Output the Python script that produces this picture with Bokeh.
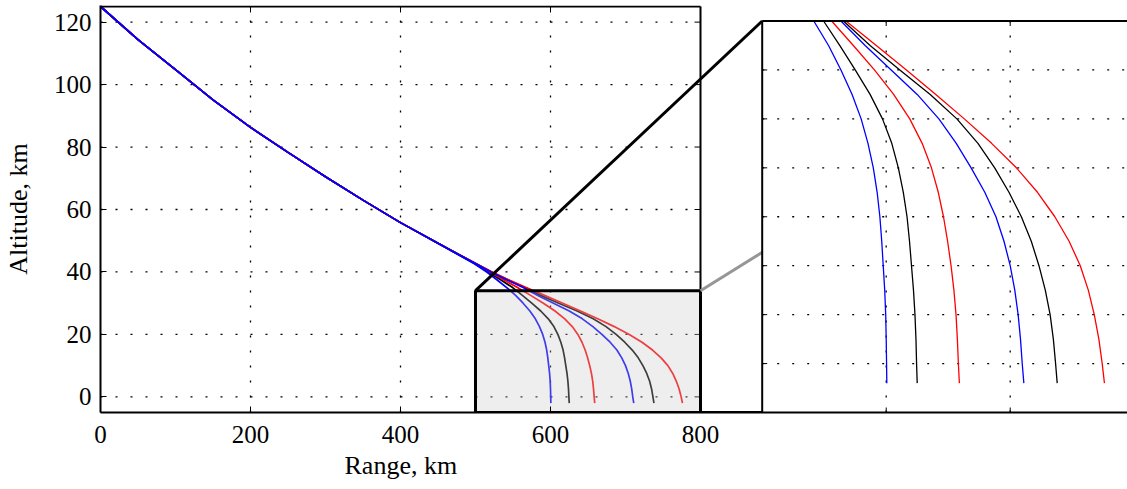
from bokeh.plotting import figure
from bokeh.models import Range1d, FixedTicker, Title
from bokeh.embed import file_html
from bokeh.resources import INLINE

# ---------------- data ----------------
x_ticks = [0, 200, 400, 600, 800]
y_ticks = [0, 20, 40, 60, 80, 100, 120]
inset_x_ticks = [600, 700]
inset_y_ticks = [0, 5, 10, 15, 20, 25, 30]

# common upper part of all trajectories (range km, altitude km)
upper_range = [0, 50, 100, 150, 200, 250, 300, 350, 400, 450]
upper_alt = [125.0, 114.4, 104.8, 95.1, 86.3, 78.3, 70.5, 63.0, 55.8, 49.2]

# lower, diverging parts (shared altitude levels)
lower_alt = [42.6, 40, 37.5, 35, 32.5, 30, 27.5, 25, 22.5, 20, 17.5, 15, 12.5, 10, 7.5, 5, 2.5, 0, -2]
blue1_range = [498.5, 515.0, 528.5, 541.6, 553.5, 563.5, 572.5, 579.8, 585.3, 589.6, 592.7, 594.9, 596.4, 597.6, 598.8, 599.6, 600.0, 600.3, 600.5]
black1_range = [499.5, 517.0, 533.5, 549.5, 562.5, 575.0, 587.0, 597.0, 604.5, 609.8, 613.8, 616.8, 618.8, 620.4, 622.0, 623.2, 624.0, 624.5, 625.0]
red1_range = [500.0, 519.0, 537.5, 556.0, 573.5, 590.5, 606.0, 619.0, 629.0, 636.5, 642.0, 646.2, 649.5, 652.3, 654.6, 656.3, 657.4, 658.2, 659.0]
blue2_range = [500.5, 520.5, 541.5, 563.5, 583.0, 604.0, 625.0, 642.5, 656.5, 668.5, 679.5, 688.5, 695.0, 700.0, 703.7, 706.4, 708.3, 709.7, 711.0]
black2_range = [501.0, 521.5, 543.0, 565.5, 587.0, 611.0, 635.5, 657.0, 674.0, 687.5, 699.0, 709.0, 717.0, 723.2, 728.3, 732.2, 734.8, 736.6, 737.9]
red2_range = [501.0, 522.0, 544.0, 567.5, 592.0, 616.3, 640.0, 663.0, 685.0, 705.0, 722.0, 736.0, 747.5, 756.5, 763.0, 767.8, 771.5, 774.2, 776.0]

# zoom box (main coords) and limits
box_x = [500, 800]
box_y = [-5, 34]
inset_xlim = [500, 800]
inset_ylim = [-5, 35]
main_xlim = [0, 800]
main_ylim = [-5, 125]

# ---------------- layout constants ----------------
W, H = 1127, 489
LEFT, TOP, BOTTOM_PX = 100, 5, 412
FW, FH = W - LEFT, BOTTOM_PX - TOP
MAIN_SX = 0.75          # px per km (range)
MAIN_SY = 3.123         # px per km (altitude)
INSET_X0_PX = 661.7     # inset left edge, px from frame left
INSET_TOP_PX = 15.5     # inset top edge, px from frame top
INSET_SX = 1.24         # px per km in inset
INSET_SY = (FH - INSET_TOP_PX) / (inset_ylim[1] - inset_ylim[0])

XM = (0.0, FW / MAIN_SX)
YM = (main_ylim[0], main_ylim[0] + FH / MAIN_SY)
XI = (inset_xlim[0] - INSET_X0_PX / INSET_SX, inset_xlim[0] + (FW - INSET_X0_PX) / INSET_SX)
YI = (inset_ylim[0], inset_ylim[0] + FH / INSET_SY)


def inset_to_main(xi, yi):
    fx = (xi - XI[0]) / (XI[1] - XI[0])
    fy = (yi - YI[0]) / (YI[1] - YI[0])
    return XM[0] + fx * (XM[1] - XM[0]), YM[0] + fy * (YM[1] - YM[0])


FONT = "Liberation Serif"

p = figure(width=W, height=H, min_border_left=LEFT, min_border_right=0,
           min_border_top=TOP, min_border_bottom=H - BOTTOM_PX,
           x_range=Range1d(*XM), y_range=Range1d(*YM),
           output_backend="svg", toolbar_location=None)
p.extra_x_ranges = {"inset": Range1d(*XI)}
p.extra_y_ranges = {"inset": Range1d(*YI)}
p.outline_line_color = None
p.grid.visible = False
p.background_fill_color = "white"
p.border_fill_color = "white"

for ax in (p.xaxis[0], p.yaxis[0]):
    ax.major_tick_in = 6
    ax.major_tick_out = 0
    ax.minor_tick_line_color = None
    ax.axis_line_width = 2
    ax.major_tick_line_width = 1
    ax.major_label_text_font = FONT
    ax.major_label_text_font_size = "25px"
    ax.major_label_text_color = "black"
p.xaxis[0].ticker = FixedTicker(ticks=x_ticks)
p.yaxis[0].ticker = FixedTicker(ticks=y_ticks)
p.xaxis[0].major_label_standoff = 13
p.yaxis[0].major_label_standoff = 9
p.yaxis[0].axis_label = "Altitude, km"
p.yaxis[0].axis_label_text_font = FONT
p.yaxis[0].axis_label_text_font_size = "26px"
p.yaxis[0].axis_label_text_font_style = "normal"
p.yaxis[0].axis_label_text_color = "black"
p.yaxis[0].axis_label_standoff = 18

XLABEL_CENTER_KM = 400
XLABEL_HALF_WIDTH_PX = 56
p.add_layout(Title(text="Range, km", align="left",
                   offset=XLABEL_CENTER_KM * MAIN_SX - XLABEL_HALF_WIDTH_PX,
                   text_font=FONT, text_font_size="26px", text_font_style="normal",
                   text_color="black", standoff=7), "below")

DOT = "2 13"
# main grid (dotted)
p.segment(x0=[main_xlim[0]] * len(y_ticks), x1=[main_xlim[1]] * len(y_ticks),
          y0=y_ticks, y1=y_ticks, line_color="black", line_width=1.3, line_dash=DOT)
vg = [t for t in x_ticks if main_xlim[0] < t < main_xlim[1]]
p.segment(x0=vg, x1=vg, y0=[main_ylim[0]] * len(vg), y1=[main_ylim[1]] * len(vg),
          line_color="black", line_width=1.3, line_dash=DOT)

curves = [
    (black1_range, "#000000"),
    (black2_range, "#000000"),
    (red1_range, "#ff0000"),
    (red2_range, "#ff0000"),
    (blue1_range, "#0000ff"),
    (blue2_range, "#0000ff"),
]
for xr, col in curves:
    p.line(upper_range + xr, upper_alt + lower_alt, line_color=col, line_width=1.7)

# main top / right border with inward ticks
p.segment(x0=[main_xlim[0]], x1=[main_xlim[1]], y0=[main_ylim[1]], y1=[main_ylim[1]],
          line_color="black", line_width=2)
p.segment(x0=[main_xlim[1]], x1=[main_xlim[1]], y0=[main_ylim[0]], y1=[main_ylim[1]],
          line_color="black", line_width=2)
p.segment(x0=vg, x1=vg, y0=[main_ylim[1]] * len(vg),
          y1=[main_ylim[1] - 6 / MAIN_SY] * len(vg), line_color="black", line_width=1)
p.segment(x0=[main_xlim[1]] * len(y_ticks), x1=[main_xlim[1] - 6 / MAIN_SX] * len(y_ticks),
          y0=y_ticks, y1=y_ticks, line_color="black", line_width=1)

# zoom box
p.quad(left=box_x[0], right=box_x[1], bottom=box_y[0], top=box_y[1],
       fill_color="#c8c8c8", fill_alpha=0.31, line_color="black", line_width=3)

# connectors
tlx, tly = inset_to_main(inset_xlim[0], inset_ylim[1])
trx, try_ = inset_to_main(inset_xlim[1], inset_ylim[1])
blx, bly = inset_to_main(inset_xlim[0], inset_ylim[0])
p.segment(x0=[box_x[1]], y0=[box_y[1]], x1=[trx], y1=[try_], line_color="#969696", line_width=3)
p.segment(x0=[box_x[0]], y0=[box_y[1]], x1=[tlx], y1=[tly], line_color="black", line_width=3)
p.segment(x0=[box_x[1]], y0=[box_y[0]], x1=[blx], y1=[bly], line_color="black", line_width=3)

# ---------------- inset ----------------
R = dict(x_range_name="inset", y_range_name="inset")
p.quad(left=inset_xlim[0], right=inset_xlim[1], bottom=inset_ylim[0], top=inset_ylim[1],
       fill_color="white", line_color=None, **R)
p.segment(x0=[inset_xlim[0]] * len(inset_y_ticks), x1=[inset_xlim[1]] * len(inset_y_ticks),
          y0=inset_y_ticks, y1=inset_y_ticks, line_color="black", line_width=1.3,
          line_dash=DOT, **R)
p.segment(x0=inset_x_ticks, x1=inset_x_ticks, y0=[inset_ylim[0]] * 2, y1=[inset_ylim[1]] * 2,
          line_color="black", line_width=1.3, line_dash=DOT, **R)
k = lower_alt.index(inset_ylim[1])
for xr, col in curves:
    p.line(xr[k:], lower_alt[k:], line_color=col, line_width=1.3, **R)
# inset ticks
p.segment(x0=[inset_xlim[0]] * len(inset_y_ticks),
          x1=[inset_xlim[0] + 5 / INSET_SX] * len(inset_y_ticks),
          y0=inset_y_ticks, y1=inset_y_ticks, line_color="black", line_width=1, **R)
p.segment(x0=inset_x_ticks, x1=inset_x_ticks, y0=[inset_ylim[0]] * 2,
          y1=[inset_ylim[0] + 5 / INSET_SY] * 2, line_color="black", line_width=1, **R)
p.segment(x0=inset_x_ticks, x1=inset_x_ticks, y0=[inset_ylim[1]] * 2,
          y1=[inset_ylim[1] - 5 / INSET_SY] * 2, line_color="black", line_width=1, **R)
# inset border
p.segment(x0=[inset_xlim[0], inset_xlim[0]], x1=[inset_xlim[1], inset_xlim[0]],
          y0=[inset_ylim[1], inset_ylim[0]], y1=[inset_ylim[1], inset_ylim[1]],
          line_color="black", line_width=2, **R)

open("out.html", "w").write(file_html(p, INLINE))
